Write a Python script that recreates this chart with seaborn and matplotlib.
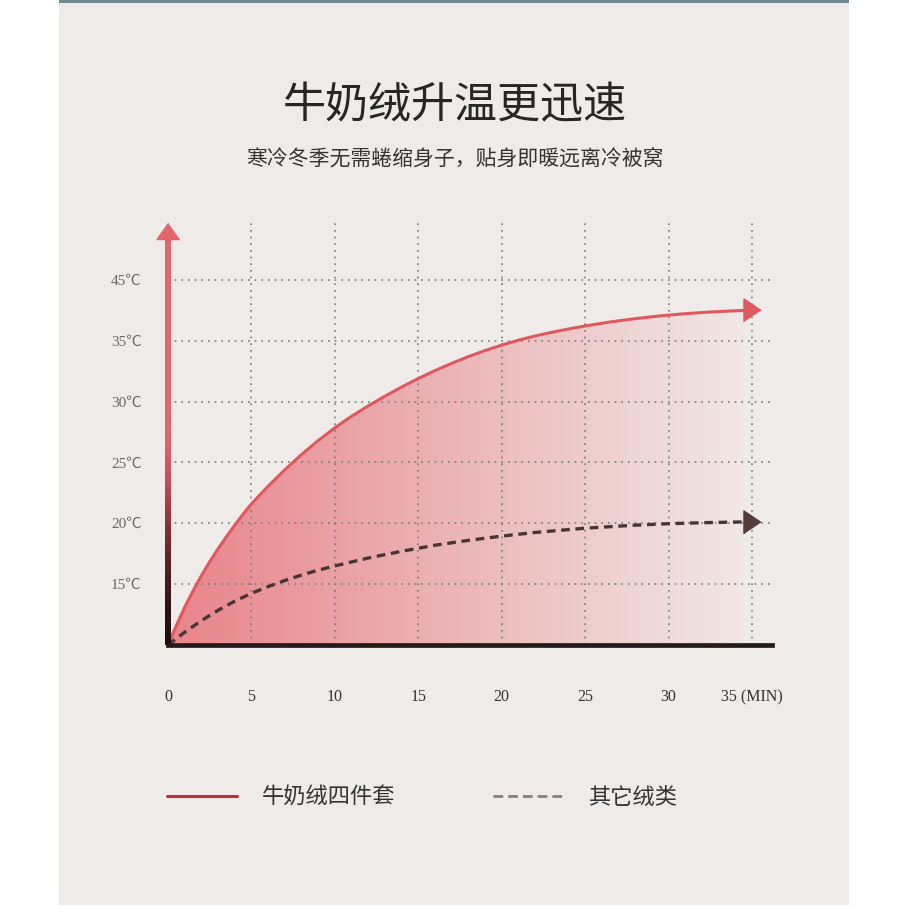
import numpy as np
import pandas as pd
import matplotlib
matplotlib.use("Agg")
import matplotlib.pyplot as plt
import seaborn as sns
from matplotlib.lines import Line2D
from matplotlib.patches import Rectangle
from matplotlib.colors import to_rgb

# ---------------- data ----------------
minutes_milk = [0, 0.5, 1, 1.5, 2, 2.5, 3, 3.5, 4, 4.5, 5, 6, 7, 8, 9, 10, 11, 12, 13, 14, 15,
                16, 17, 18, 19, 20, 21, 22, 23, 24, 25, 26.5, 28, 29.5, 31, 32.5, 34.5]
temp_milk = [10, 11.6, 13.1, 14.45, 15.7, 16.85, 17.9, 18.9, 19.85, 20.75, 21.6, 23.05, 24.4,
             25.65, 26.8, 27.85, 28.8, 29.65, 30.45, 31.2, 31.9, 32.55, 33.15, 33.7, 34.2,
             34.65, 35.05, 35.4, 35.7, 35.97, 36.22, 36.55, 36.82, 37.05, 37.23, 37.37, 37.5]

minutes_other = [0, 1, 2, 3, 4, 5, 6, 7, 8, 9, 10, 12, 14, 16, 18, 20, 22, 25, 28, 30, 32, 34.5]
temp_other = [10, 11.05, 12.0, 12.85, 13.6, 14.25, 14.8, 15.3, 15.75, 16.15, 16.5, 17.15, 17.7,
              18.2, 18.6, 18.95, 19.25, 19.6, 19.85, 19.97, 20.05, 20.12]

x_ticks = [0, 5, 10, 15, 20, 25, 30, 35]
x_tick_labels = ["0", "5", "10", "15", "20", "25", "30", "35 (MIN)"]
y_ticks = [15, 20, 25, 30, 35, 40]
y_tick_labels = ["15℃", "20℃", "25℃", "30℃", "35℃", "45℃"]

series_names = ["牛奶绒四件套", "其它绒类"]
title_text = "牛奶绒升温更迅速"
subtitle_text = "寒冷冬季无需蜷缩身子，贴身即暖远离冷被窝"

df_milk = pd.DataFrame({"minutes": minutes_milk, "temp": temp_milk})
df_other = pd.DataFrame({"minutes": minutes_other, "temp": temp_other})

# ---------------- style ----------------
sns.set_theme(style="white")
plt.rcParams["font.family"] = ["Noto Sans CJK SC", "DejaVu Sans"]
serif_fam = ["Liberation Serif", "Noto Sans CJK SC", "DejaVu Serif"]

W = H = 908
fig = plt.figure(figsize=(W / 100, H / 100), dpi=100, facecolor="white")

def fx(px):
    return px / W

def fy(py):
    return 1 - py / H

# panel background and top strip
fig.patches.append(Rectangle((fx(59), fy(905)), fx(849) - fx(59), fy(3) - fy(905),
                             transform=fig.transFigure, facecolor="#efebe8", edgecolor="none", zorder=-10))
fig.patches.append(Rectangle((fx(59), fy(3)), fx(849) - fx(59), fy(0) - fy(3),
                             transform=fig.transFigure, facecolor="#6d8a8c", edgecolor="none", zorder=-9))

ax = fig.add_axes([fx(168), fy(645), fx(772) - fx(168), fy(223) - fy(645)])
ax.patch.set_alpha(0)

red = "#e0585f"
dark = "#4a3535"

# gradient fill under the milk curve
poly = ax.fill_between(df_milk["minutes"], df_milk["temp"], 10, facecolor="none", edgecolor="none")
n = 256
c0 = np.array(to_rgb("#e8848a"))
c1 = np.array(to_rgb("#f0e8e6"))
t = np.linspace(0, 1, n)[None, :, None]
grad = c0 * (1 - t) + c1 * t
im = ax.imshow(grad, extent=(0, max(minutes_milk), 10, max(temp_milk) + 0.5),
               aspect="auto", interpolation="bilinear", zorder=0.8, origin="lower")
im.set_clip_path(poly.get_paths()[0], ax.transData)

# curves
sns.lineplot(data=df_milk, x="minutes", y="temp", ax=ax, color=red, linewidth=2.2,
             legend=False, zorder=3)
sns.lineplot(data=df_other, x="minutes", y="temp", ax=ax, color=dark, linewidth=2.4,
             linestyle=(0, (2.6, 1.7)), legend=False, zorder=3)

# arrow heads at ends of the curves
right_tri = [(0.74, 0), (-0.74, 1), (-0.74, -1)]
ax.plot([minutes_milk[-1] + 0.5], [temp_milk[-1]], marker=right_tri, markersize=16.6,
        color=red, linestyle="none", zorder=4, clip_on=False)
ax.plot([minutes_other[-1] + 0.5], [temp_other[-1]], marker=right_tri, markersize=16.6,
        color="#553c3c", linestyle="none", zorder=4, clip_on=False)

# y axis arrow with vertical colour gradient
y0, y1 = 10, 43.4
m = 300
yy = np.linspace(y0, y1, m)
stops_y = [10, 13, 16, 20, 24, 27, 44]
stops_c = [to_rgb(c) for c in ["#1c0d0d", "#2e1414", "#4e1f22", "#8c3238", "#c9545c", "#e2666e", "#e2666e"]]
shaft = np.stack([np.interp(yy, stops_y, [c[k] for c in stops_c]) for k in range(3)], axis=-1)[:, None, :]
ax.imshow(shaft, extent=(-0.15, 0.15, y0, y1), origin="lower", aspect="auto",
          interpolation="bilinear", zorder=5, clip_on=False)
up_tri = [(0, 0.7), (-1, -0.7), (1, -0.7)]
ax.plot([0], [44.03], marker=up_tri, markersize=16.6, color="#e2666e",
        linestyle="none", zorder=5, clip_on=False)

# grid
ax.set_axisbelow("line")
ax.grid(True, color="#7a7a7a", linestyle=(0, (1, 3)), linewidth=1.2)

# spines
for s in ["top", "right", "left"]:
    ax.spines[s].set_visible(False)
ax.spines["bottom"].set_color("#241b1a")
ax.spines["bottom"].set_linewidth(3.4)
ax.spines["bottom"].set_zorder(6)

ax.set_xlim(0, 36.2)
ax.set_ylim(10, 10 + 422 / 12.167)

# ticks
ax.set_xticks(x_ticks)
ax.set_xticklabels(x_tick_labels, family=serif_fam, fontsize=11.5, color="#333333")
ax.set_yticks(y_ticks)
ax.set_yticklabels(y_tick_labels, family=serif_fam, fontsize=11, color="#6a6a6a")
ax.tick_params(axis="x", length=0, pad=32)
ax.tick_params(axis="y", length=0, pad=19)
ax.set_xlabel("")
ax.set_ylabel("")

# titles
fig.text(fx(455), fy(106), title_text, ha="center", va="center", fontsize=31,
         color="#262626", fontweight="light")
fig.text(fx(455), fy(160), subtitle_text, ha="center", va="center", fontsize=15, color="#333333")

# legend
handles = [Line2D([], [], color="#b8323a", linewidth=2.2),
           Line2D([], [], color="#8a7e7c", linewidth=2.0, linestyle=(0, (3.5, 1.8)))]
fig.legend(handles, series_names, ncol=2, frameon=False, loc="center left",
           bbox_to_anchor=(fx(167), fy(797)), fontsize=16, handlelength=3.15,
           handletextpad=1.13, columnspacing=4.4, borderpad=0, borderaxespad=0,
           labelcolor="#333333")

fig.savefig("out.png", dpi=100, facecolor="white")
